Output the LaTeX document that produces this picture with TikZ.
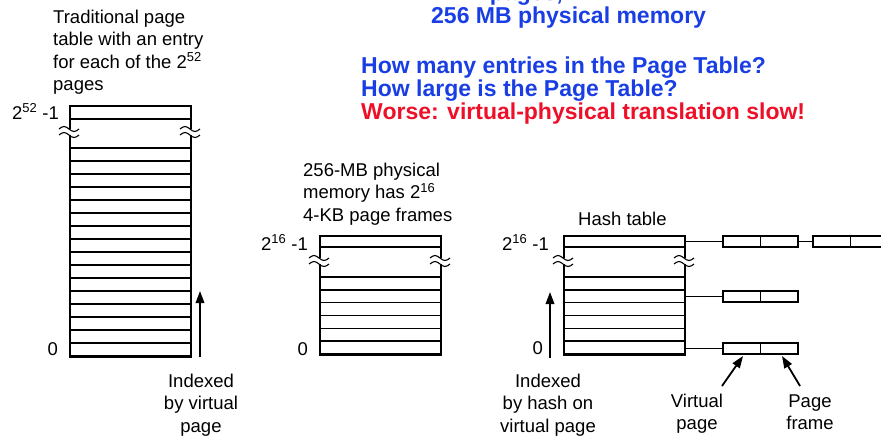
\documentclass[tikz,border=0pt]{standalone}
\usepackage{fontspec}
\setmainfont{Liberation Sans}
\usetikzlibrary{arrows.meta}
\definecolor{qblue}{RGB}{25,62,228}
\definecolor{qred}{RGB}{238,16,40}

\tikzset{
  tbl/.style={draw, line width=1.5pt, inner sep=0pt, anchor=north west},
  rowline/.style={line width=1.5pt},
  wave/.style={line width=1.1pt},
  lbl/.style={font=\fontsize{18.5}{22.5}\selectfont, inner sep=0pt},
  note/.style={lbl, align=left, anchor=base west},
  cnote/.style={lbl, align=center, anchor=base},
  num/.style={lbl, anchor=base east},
  qtext/.style={font=\fontsize{23}{23}\selectfont\bfseries, inner sep=0pt, anchor=base west, text=qblue},
  cell/.style={draw, line width=1.5pt, minimum width=75pt, minimum height=11pt, inner sep=0pt},
  ptr/.style={line width=1.4pt},
  idx/.style={line width=1.8pt, -{Triangle[length=12pt,width=8.5pt]}},
}

% break mark (two tildes) across a vertical table edge at (#1,#2)
\newcommand{\breakmark}[2]{%
  \fill[white] (#1-2,#2-3.2) rectangle (#1+2,#2+3.2);
  \draw[wave] (#1-10,#2-3) sin (#1-5,#2-5.5) cos (#1,#2-3) sin (#1+5,#2-0.5) cos (#1+10,#2-3);
  \draw[wave] (#1-10,#2+3) sin (#1-5,#2+0.5) cos (#1,#2+3) sin (#1+5,#2+5.5) cos (#1+10,#2+3);
}

% rows of a table: left, right, top-row line, first lower line, bottom, number of rows
\newcommand{\tablerows}[6]{%
  \draw[rowline] (#1,#3) -- (#2,#3);
  \pgfmathsetmacro{\rowh}{(#5-#4)/#6}
  \foreach \k in {0,...,#6} {
    \draw[rowline] (#1,{#4+\k*\rowh}) -- (#2,{#4+\k*\rowh});
  }
}

\begin{document}
\begin{tikzpicture}[x=1pt, y=-1pt]
\useasboundingbox (0,0) rectangle (881,437);
\clip (0,0) rectangle (881,437);

% ---------- questions ----------
\node[qtext] (t0) at (431,0) {4 KB pages,};
\node[qtext] (t1) at (431,23) {256 MB physical memory};
\node[qtext] (t2) at (361,73) {How many entries in the Page Table?};
\node[qtext] (t3) at (361,96) {How large is the Page Table?};
\node[qtext, text=qred] (t4) at (361,119) {Worse: virtual-physical translation slow!};

% ---------- traditional page table ----------
% (multi-line nodes are placed by the baseline of their last line)
\node[note] (ltxt) at (53,90.5) {Traditional page\\table with an entry\\for each of the 2\textsuperscript{52}\\pages};
\node[tbl, minimum width=121pt, minimum height=251pt] (vt) at (69,105) {};
\tablerows{69}{190}{119}{148}{356}{16}
\breakmark{69}{132}
\breakmark{190}{132}
\node[num] (vtop) at (59,119) {2\textsuperscript{52} -1};
\node[num] (vzero) at (58,355) {0};
\coordinate (va0) at (200,357);
\coordinate (va1) at (200,291);
\draw[idx] (va0) -- (va1);
\node[cnote] (vidx) at (201,432) {Indexed\\by virtual\\page};

% ---------- physical frames ----------
\node[note] (mtxt) at (303,221) {256-MB physical\\memory has 2\textsuperscript{16}\\4-KB page frames};
\node[tbl, minimum width=121pt, minimum height=119pt] (pt) at (319,235) {};
\tablerows{319}{440}{247}{277}{354}{6}
\breakmark{319}{261}
\breakmark{440}{261}
\node[num] (ptop) at (308,250) {2\textsuperscript{16} -1};
\node[num] (pzero) at (308,355) {0};

% ---------- hash table ----------
\node[lbl, anchor=base west] (htxt) at (578,225) {Hash table};
\node[tbl, minimum width=121pt, minimum height=119pt] (ht) at (563,235) {};
\tablerows{563}{684}{247}{277}{354}{6}
\breakmark{563}{261}
\breakmark{684}{261}
\node[num] (htop) at (549,250) {2\textsuperscript{16} -1};
\node[num] (hzero) at (543,354) {0};
\coordinate (ha0) at (550,358);
\coordinate (ha1) at (550,292);
\draw[idx] (ha0) -- (ha1);
\node[cnote] (hidx) at (548,432) {Indexed\\by hash on\\virtual page};

% chains of (virtual page, page frame) entries
\coordinate (h1) at (684,241.5);
\coordinate (h2) at (684,296.5);
\coordinate (h3) at (684,348.5);
\node[cell] (c11) at (760.5,241.5) {};
\node[cell] (c12) at (850.5,241.5) {};
\node[cell] (c2) at (760.5,296.5) {};
\node[cell] (c3) at (760.5,348.5) {};
\foreach \c in {c11,c12,c2,c3} \draw[ptr] (\c.north) -- (\c.south);
\draw[ptr] (h1) -- (c11.west);
\draw[ptr] (c11.east) -- (c12.west);
\draw[ptr] (h2) -- (c2.west);
\draw[ptr] (h3) -- (c3.west);

\node[cnote] (vpg) at (697,429.5) {Virtual\\page};
\node[cnote] (pfr) at (810,429.5) {Page\\frame};
\coordinate (vp0) at (722,386);
\coordinate (vp1) at (743,356);
\coordinate (pf0) at (800,386);
\coordinate (pf1) at (782,356);
\draw[idx] (vp0) -- (vp1);
\draw[idx] (pf0) -- (pf1);
\end{tikzpicture}
\end{document}
